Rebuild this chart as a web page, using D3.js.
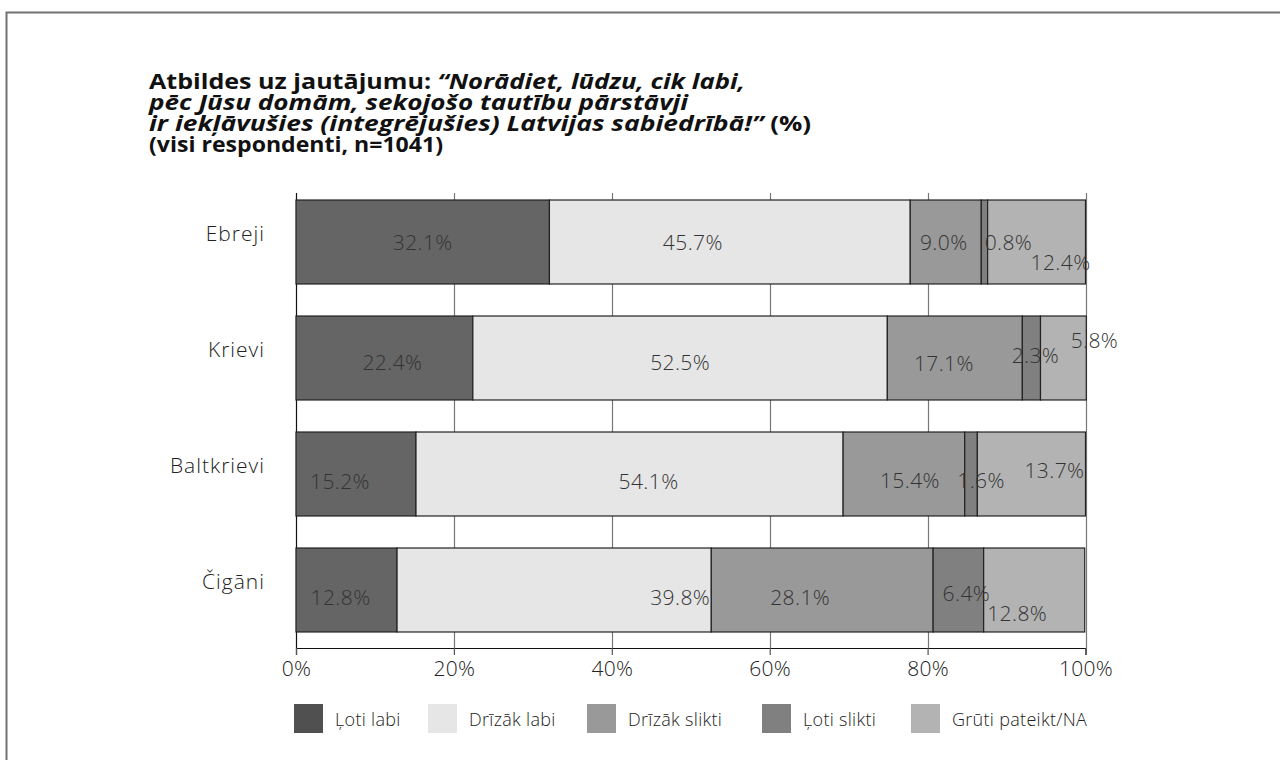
<!DOCTYPE html>
<html lang="lv">
<head>
<meta charset="utf-8">
<title>Tautību integrācija</title>
<script src="https://d3js.org/d3.v7.min.js"></script>
<style>
  body { margin: 0; background: #fff; }
  svg { display: block; }
  .title { font-family: 'Open Sans', sans-serif; font-size: 21px; font-weight: 700; fill: #111; }
  .title .it { font-style: italic; font-size: 21.5px; }
  .cat { font-family: 'Open Sans', sans-serif; font-size: 21px; font-weight: 300; fill: #222; letter-spacing: 1px; }
  .val { font-family: 'Open Sans', sans-serif; font-size: 21px; font-weight: 300; fill: #333; letter-spacing: 0.4px; }
  .tick text { font-family: 'Open Sans', sans-serif; font-size: 21px; font-weight: 300; fill: #222; letter-spacing: 0.3px; }
  .legend text { font-family: 'Open Sans', sans-serif; font-size: 18px; font-weight: 300; fill: #222; letter-spacing: 0.3px; }
</style>
</head>
<body>
<div id="chart"></div>
<script>
// data
var categories = ["Ebreji", "Krievi", "Baltkrievi", "Čigāni"];
var seriesNames = ["Ļoti labi", "Drīzāk labi", "Drīzāk slikti", "Ļoti slikti", "Grūti pateikt/NA"];
var lotiLabi     = [32.1, 22.4, 15.2, 12.8];
var drizakLabi   = [45.7, 52.5, 54.1, 39.8];
var drizakSlikti = [9.0, 17.1, 15.4, 28.1];
var lotiSlikti   = [0.8, 2.3, 1.6, 6.4];
var grutiPateikt = [12.4, 5.8, 13.7, 12.8];
var xTicks = [0, 20, 40, 60, 80, 100];

// label nudges (dx, dy) copied from the original layout, per category then series
var labelNudge = [
  [[0, 0], [-37, 0], [-2, 0], [24, 0], [24, 20]],
  [[8, 4], [0, 4], [-11, 5], [4, -3], [31, -18]],
  [[-16, 7], [19, 7], [6, 6], [10, 6], [23, -4]],
  [[-6, 7], [126, 7], [-22, 7], [8, 3], [-17, 23]]
];

var colors = ["#656565", "#e6e6e6", "#999999", "#808080", "#b3b3b3"];
var legendColors = ["#505050", "#e6e6e6", "#999999", "#808080", "#b3b3b3"];

var seriesValues = [lotiLabi, drizakLabi, drizakSlikti, lotiSlikti, grutiPateikt];
var rows = categories.map(function(c, i) {
  var r = { cat: c };
  seriesNames.forEach(function(s, j) { r[s] = seriesValues[j][i]; });
  return r;
});

var width = 1280, height = 760;
var svg = d3.select("#chart").append("svg")
  .attr("width", width)
  .attr("height", height);

// outer frame (runs off right/bottom edge)
svg.append("rect")
  .attr("x", 6.5).attr("y", 12.5)
  .attr("width", 1300).attr("height", 800)
  .attr("fill", "none")
  .attr("stroke", "#707070")
  .attr("stroke-width", 2);

// title, each line fitted to the width it has in the original
var title = svg.append("text").attr("class", "title").attr("x", 149).attr("y", 89)
  .attr("textLength", 596).attr("lengthAdjust", "spacingAndGlyphs");
title.append("tspan").text("Atbildes uz jautājumu: ");
title.append("tspan").attr("class", "it").text("“Norādiet, lūdzu, cik labi,");
svg.append("text").attr("class", "title").attr("x", 149).attr("y", 110)
  .attr("textLength", 539).attr("lengthAdjust", "spacingAndGlyphs")
  .append("tspan").attr("class", "it").text("pēc Jūsu domām, sekojošo tautību pārstāvji");
var t3 = svg.append("text").attr("class", "title").attr("x", 149).attr("y", 131)
  .attr("textLength", 662).attr("lengthAdjust", "spacingAndGlyphs");
t3.append("tspan").attr("class", "it").text("ir iekļāvušies (integrējušies) Latvijas sabiedrībā!”");
t3.append("tspan").text(" (%)");
svg.append("text").attr("class", "title").attr("x", 149).attr("y", 152)
  .attr("textLength", 294).attr("lengthAdjust", "spacingAndGlyphs")
  .text("(visi respondenti, n=1041)");

var x = d3.scaleLinear().domain([0, 100]).range([296, 1085.5]);
var y = d3.scaleBand().domain(categories).range([184, 648])
  .paddingInner(0.276).paddingOuter(0.138);

// gridlines
svg.append("g").selectAll("line")
  .data(xTicks.slice(1))
  .join("line")
  .attr("x1", function(d) { return Math.round(x(d)) + 0.5; })
  .attr("x2", function(d) { return Math.round(x(d)) + 0.5; })
  .attr("y1", 193).attr("y2", 648)
  .attr("stroke", "#777").attr("stroke-width", 1.2);

// y axis line
svg.append("line")
  .attr("x1", 296.5).attr("x2", 296.5)
  .attr("y1", 193).attr("y2", 648)
  .attr("stroke", "#111").attr("stroke-width", 1.2);

var stacked = d3.stack().keys(seriesNames)(rows);

var layers = svg.append("g").selectAll("g")
  .data(stacked)
  .join("g")
  .attr("fill", function(d, i) { return colors[i]; });

layers.selectAll("rect")
  .data(function(d) { return d; })
  .join("rect")
  .attr("x", function(d) { return x(d[0]); })
  .attr("y", function(d) { return y(d.data.cat); })
  .attr("width", function(d) { return x(d[1]) - x(d[0]); })
  .attr("height", y.bandwidth())
  .attr("stroke", "#222")
  .attr("stroke-width", 1.2);

// value labels
stacked.forEach(function(layer, j) {
  svg.append("g").selectAll("text")
    .data(layer)
    .join("text")
    .attr("class", "val")
    .attr("text-anchor", "middle")
    .attr("dominant-baseline", "central")
    .attr("x", function(d, i) { return (x(d[0]) + x(d[1])) / 2 + labelNudge[i][j][0]; })
    .attr("y", function(d, i) { return y(d.data.cat) + y.bandwidth() / 2 + labelNudge[i][j][1]; })
    .text(function(d) { return d3.format(".1f")(d.data[seriesNames[j]]) + "%"; });
});

// category labels
svg.append("g").selectAll("text")
  .data(categories)
  .join("text")
  .attr("class", "cat")
  .attr("text-anchor", "end")
  .attr("dominant-baseline", "central")
  .attr("x", 265)
  .attr("y", function(d) { return y(d) + y.bandwidth() / 2 - 9; })
  .text(function(d) { return d; });

// x axis
var xAxis = svg.append("g")
  .attr("transform", "translate(0,648)")
  .call(d3.axisBottom(x).tickValues(xTicks).tickSize(7).tickPadding(6)
    .tickFormat(function(d) { return d + "%"; }));
xAxis.select(".domain").attr("stroke", "#111").attr("stroke-width", 1.2);
xAxis.selectAll(".tick line").attr("stroke", "#555").attr("stroke-width", 1.2);
xAxis.selectAll("text").attr("font-family", null).attr("font-size", null);

// legend
var legendX = [294, 428, 587, 762, 911];
var legend = svg.append("g").attr("class", "legend")
  .selectAll("g")
  .data(seriesNames)
  .join("g")
  .attr("transform", function(d, i) { return "translate(" + legendX[i] + ",704)"; });
legend.append("rect")
  .attr("width", 29).attr("height", 29)
  .attr("fill", function(d, i) { return legendColors[i]; });
legend.append("text")
  .attr("x", 41).attr("y", 15)
  .attr("dominant-baseline", "central")
  .text(function(d) { return d; });
</script>
</body>
</html>
